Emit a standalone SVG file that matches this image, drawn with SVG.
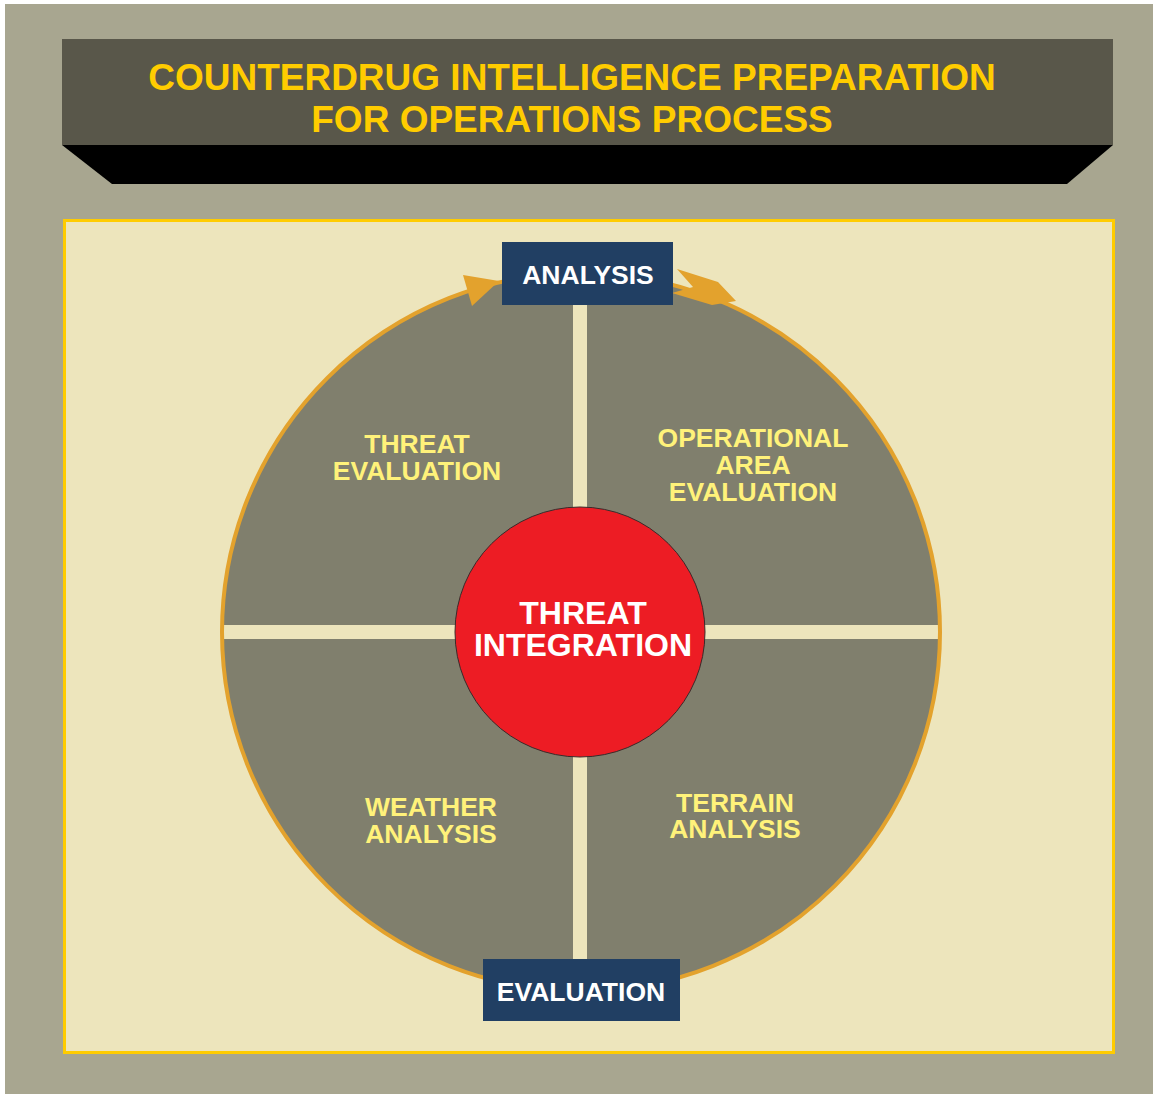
<svg xmlns="http://www.w3.org/2000/svg" width="1153" height="1094" viewBox="0 0 1153 1094">
<style>
.t{font-family:"Liberation Sans",Arial,sans-serif;font-weight:bold;text-anchor:middle}
.title{fill:#FFCC00;font-size:37px}
.box{fill:#213F63}
.boxt{fill:#FFFFFF;font-size:26.5px}
.q{fill:#FFF27A;font-size:26.5px}
.c{fill:#FFFFFF;font-size:32px}
.arr{fill:#E3A22D}
</style>
<rect x="0" y="0" width="1153" height="1094" fill="#FFFFFF"/>
<rect x="5" y="4" width="1148" height="1090" fill="#A8A690"/>
<g id="title">
<polygon points="62,145 1113,145 1067,184 112,184" fill="#000000"/>
<rect x="62" y="39" width="1051" height="106" fill="#59574A"/>
<text class="t title" x="572" y="90">COUNTERDRUG INTELLIGENCE PREPARATION</text>
<text class="t title" x="572" y="132">FOR OPERATIONS PROCESS</text>
</g>
<rect x="64.5" y="220.5" width="1049" height="832" fill="#EDE5BC" stroke="#FFCC00" stroke-width="3"/>
<g id="cycle">
<circle cx="581" cy="632" r="359" fill="#807F6D"/>
<rect x="573" y="273" width="14" height="718" fill="#EDE5BC"/>
<rect x="222" y="625" width="718" height="14" fill="#EDE5BC"/>
<circle cx="581" cy="632" r="359" fill="none" stroke="#E3A22D" stroke-width="4"/>
</g>
<g id="connectors">
<polygon class="arr" points="463,275 499,281 472,306"/>
<polygon class="arr" points="677,269 718,282 736,301 712,305 672,293 693,287"/>
</g>
<g id="threat-evaluation">
<text class="t q" x="417" y="453">THREAT</text>
<text class="t q" x="417" y="480">EVALUATION</text>
</g>
<g id="operational-area-evaluation">
<text class="t q" x="753" y="447">OPERATIONAL</text>
<text class="t q" x="753" y="474">AREA</text>
<text class="t q" x="753" y="501">EVALUATION</text>
</g>
<g id="weather-analysis">
<text class="t q" x="431" y="816">WEATHER</text>
<text class="t q" x="431" y="843">ANALYSIS</text>
</g>
<g id="terrain-analysis">
<text class="t q" x="735" y="812">TERRAIN</text>
<text class="t q" x="735" y="838">ANALYSIS</text>
</g>
<g id="threat-integration">
<circle cx="580" cy="632" r="125" fill="#ED1C24" stroke="#3A2A2A" stroke-width="1"/>
<text class="t c" x="583" y="624">THREAT</text>
<text class="t c" x="583" y="656">INTEGRATION</text>
</g>
<g id="analysis">
<rect class="box" x="502" y="242" width="171" height="63"/>
<text class="t boxt" x="588" y="284">ANALYSIS</text>
</g>
<g id="evaluation">
<rect class="box" x="483" y="959" width="197" height="62"/>
<text class="t boxt" x="581" y="1001">EVALUATION</text>
</g>
</svg>
